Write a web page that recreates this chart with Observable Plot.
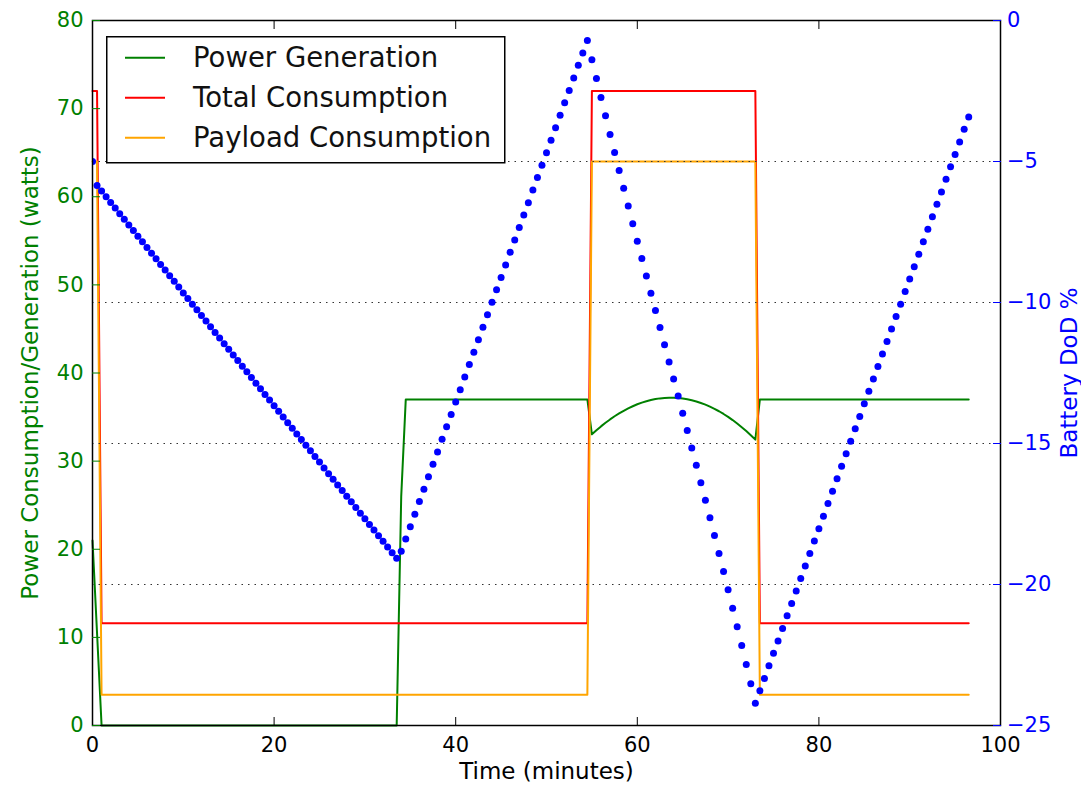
<!DOCTYPE html>
<html><head><meta charset="utf-8">
<script src="https://cdn.jsdelivr.net/npm/d3@7"></script>
<script src="https://cdn.jsdelivr.net/npm/@observablehq/plot@0.6"></script>
<style>
body{margin:0;background:#fff;}
#wrap{position:relative;width:1081px;height:792px;font-family:"DejaVu Sans";}
#legend{position:absolute;left:106px;top:36px;}
</style></head><body><div id="wrap"></div>
<script>
// ---------- data ----------
const seriesNames = ["Power Generation", "Total Consumption", "Payload Consumption"];

const genTime = [0, 1.0, 33.5, 34.0, 34.5, 54.5,
  55.0, 55.5, 56.0, 56.5, 57.0, 57.5, 58.0, 58.5, 59.0, 59.5,
  60.0, 60.5, 61.0, 61.5, 62.0, 62.5, 63.0, 63.5, 64.0, 64.5,
  65.0, 65.5, 66.0, 66.5, 67.0, 67.5, 68.0, 68.5, 69.0, 69.5,
  70.0, 70.5, 71.0, 71.5, 72.0, 72.5, 73.0, 73.5, 96.5];
const genWatts = [21, 0, 0, 26, 37, 37,
  33.04, 33.50, 33.94, 34.35, 34.73, 35.09, 35.41, 35.71, 35.99, 36.23,
  36.45, 36.64, 36.80, 36.93, 37.04, 37.12, 37.17, 37.20, 37.20, 37.16,
  37.11, 37.02, 36.91, 36.77, 36.60, 36.41, 36.18, 35.93, 35.66, 35.35,
  35.02, 34.66, 34.27, 33.85, 33.41, 32.94, 32.44, 37, 37];

const consTime = [0, 0.5, 1.0, 54.5, 55.0, 73.0, 73.5, 96.5];
const totalWatts = [72, 72, 11.6, 11.6, 72, 72, 11.6, 11.6];
const payloadWatts = [64, 64, 3.5, 3.5, 64, 64, 3.5, 3.5];

const batteryTime = [
  0, 0.5, 1, 1.5, 2, 2.5, 3, 3.5, 4, 4.5, 5, 5.5, 6, 6.5, 7, 7.5, 8, 8.5, 9, 9.5,
  10, 10.5, 11, 11.5, 12, 12.5, 13, 13.5, 14, 14.5, 15, 15.5, 16, 16.5, 17, 17.5, 18, 18.5, 19, 19.5,
  20, 20.5, 21, 21.5, 22, 22.5, 23, 23.5, 24, 24.5, 25, 25.5, 26, 26.5, 27, 27.5, 28, 28.5, 29, 29.5,
  30, 30.5, 31, 31.5, 32, 32.5, 33, 33.5, 34, 34.5, 35, 35.5, 36, 36.5, 37, 37.5, 38, 38.5, 39, 39.5,
  40, 40.5, 41, 41.5, 42, 42.5, 43, 43.5, 44, 44.5, 45, 45.5, 46, 46.5, 47, 47.5, 48, 48.5, 49, 49.5,
  50, 50.5, 51, 51.5, 52, 52.5, 53, 53.5, 54, 54.5, 55, 55.5, 56, 56.5, 57, 57.5, 58, 58.5, 59, 59.5,
  60, 60.5, 61, 61.5, 62, 62.5, 63, 63.5, 64, 64.5, 65, 65.5, 66, 66.5, 67, 67.5, 68, 68.5, 69, 69.5,
  70, 70.5, 71, 71.5, 72, 72.5, 73, 73.5, 74, 74.5, 75, 75.5, 76, 76.5, 77, 77.5, 78, 78.5, 79, 79.5,
  80, 80.5, 81, 81.5, 82, 82.5, 83, 83.5, 84, 84.5, 85, 85.5, 86, 86.5, 87, 87.5, 88, 88.5, 89, 89.5,
  90, 90.5, 91, 91.5, 92, 92.5, 93, 93.5, 94, 94.5, 95, 95.5, 96, 96.5];
const batteryDoD = [
  -5.00,
  -5.85, -6.05, -6.25, -6.45, -6.65, -6.85, -7.05, -7.25, -7.45, -7.65,
  -7.85, -8.05, -8.25, -8.45, -8.65, -8.85, -9.05, -9.25, -9.45, -9.66,
  -9.86, -10.06, -10.26, -10.46, -10.66, -10.86, -11.06, -11.26, -11.46, -11.66,
  -11.86, -12.06, -12.26, -12.46, -12.66, -12.86, -13.06, -13.26, -13.46, -13.66,
  -13.86, -14.06, -14.26, -14.46, -14.66, -14.86, -15.06, -15.26, -15.46, -15.66,
  -15.87, -16.07, -16.27, -16.47, -16.67, -16.87, -17.07, -17.27, -17.47, -17.67,
  -17.87, -18.07, -18.27, -18.47, -18.67, -18.87, -19.07,
  -18.82,
  -18.39, -17.95, -17.51, -17.06, -16.62, -16.18, -15.74, -15.30, -14.85, -14.41,
  -13.97, -13.53, -13.09, -12.64, -12.20, -11.76, -11.32, -10.88, -10.43, -9.99,
  -9.55, -9.11, -8.67, -8.22, -7.78, -7.34, -6.90, -6.46, -6.01, -5.57,
  -5.13, -4.69, -4.25, -3.80, -3.36, -2.92, -2.48, -2.04, -1.59, -1.15,
  -0.71,
  -1.39, -2.06, -2.73, -3.38, -4.04, -4.68, -5.32, -5.95, -6.58, -7.21,
  -7.83, -8.44, -9.06, -9.67, -10.28, -10.89, -11.50, -12.11, -12.71, -13.32,
  -13.93, -14.54, -15.16, -15.77, -16.39, -17.01, -17.63, -18.26, -18.90, -19.54,
  -20.19, -20.84, -21.50, -22.16, -22.84, -23.52, -24.21,
  -23.77, -23.33, -22.88, -22.44, -22.00, -21.56, -21.11, -20.67, -20.23, -19.79,
  -19.34, -18.90, -18.46, -18.02, -17.58, -17.13, -16.69, -16.25, -15.81, -15.36,
  -14.92, -14.48, -14.04, -13.59, -13.15, -12.71, -12.27, -11.83, -11.38, -10.94,
  -10.50, -10.06, -9.61, -9.17, -8.73, -8.29, -7.85, -7.40, -6.96, -6.52,
  -6.08, -5.63, -5.19, -4.75, -4.31, -3.86, -3.42];

const xTicks = [0, 20, 40, 60, 80, 100];
const wattTicks = [0, 10, 20, 30, 40, 50, 60, 70, 80];
const dodTicks = [-25, -20, -15, -10, -5, 0];
const dodGrid = [-20, -15, -10, -5];

// ---------- styles ----------
const colors = {gen: "#008000", total: "#ff0000", payload: "#ffa500", battery: "#0000ff"};
const seriesColors = [colors.gen, colors.total, colors.payload];

// map DoD (right axis, -25..0) onto the watts scale (0..80)
const dodMin = -25, dodMax = 0, wMin = 0, wMax = 80;
const toW = d => (d - dodMin) / (dodMax - dodMin) * (wMax - wMin) + wMin;
const fromW = w => (w - wMin) / (wMax - wMin) * (dodMax - dodMin) + dodMin;
const fmtDoD = w => { const v = Math.round(fromW(w)); return v < 0 ? "\u2212" + Math.abs(v) : String(v); };

const gen = genTime.map((t, i) => ({t, w: genWatts[i]}));
const total = consTime.map((t, i) => ({t, w: totalWatts[i]}));
const payload = consTime.map((t, i) => ({t, w: payloadWatts[i]}));
const battery = batteryTime.map((t, i) => ({t, d: batteryDoD[i]}));

const chart = Plot.plot({
  width: 1081, height: 792,
  marginLeft: 92, marginRight: 81, marginTop: 20, marginBottom: 67,
  x: {domain: [0, 100]},
  y: {domain: [wMin, wMax]},
  style: {fontFamily: "DejaVu Sans", fontSize: "21px", background: "white", color: "black"},
  marks: [
    Plot.line(gen, {x: "t", y: "w", stroke: colors.gen, strokeWidth: 2}),
    Plot.line(total, {x: "t", y: "w", stroke: colors.total, strokeWidth: 2}),
    Plot.line(payload, {x: "t", y: "w", stroke: colors.payload, strokeWidth: 2}),
    Plot.ruleY(dodGrid.map(toW), {stroke: "#333", strokeWidth: 1, strokeDasharray: "1.5,5"}),
    Plot.dot(battery, {x: "t", y: d => toW(d.d), r: 3.5, fill: colors.battery, stroke: "none", clip: true}),
    Plot.frame({stroke: "black", strokeWidth: 1.5}),
    Plot.axisX({ticks: xTicks, tickSize: -8, tickPadding: 20, label: null, tickFormat: d => String(d)}),
    Plot.axisX({anchor: "top", ticks: xTicks, tickSize: -8, label: null, tickFormat: () => ""}),
    Plot.axisY({ticks: wattTicks, tickSize: -8, tickPadding: 17, color: colors.gen, label: null, tickFormat: d => String(d)}),
    Plot.axisY({anchor: "right", ticks: dodTicks.map(toW), tickSize: -8, tickPadding: 14.5, color: colors.battery, label: null, tickFormat: fmtDoD}),
    Plot.text(["Time (minutes)"], {text: d => d, frameAnchor: "bottom", dy: 53, fontSize: 23, fill: "black", textAnchor: "middle"}),
    Plot.text(["Power Consumption/Generation (watts)"], {text: d => d, frameAnchor: "left", dx: -62, rotate: -90, fontSize: 23, fill: colors.gen, textAnchor: "middle"}),
    Plot.text(["Battery DoD %"], {text: d => d, frameAnchor: "right", dx: 69, rotate: -90, fontSize: 23, fill: colors.battery, textAnchor: "middle"})
  ]
});
const wrap = document.getElementById("wrap");
wrap.appendChild(chart);

// ---------- legend ----------
const lg = d3.select(wrap).append("svg").attr("id", "legend")
  .attr("width", 401).attr("height", 129);
lg.append("rect").attr("x", 0.75).attr("y", 0.75).attr("width", 398).attr("height", 126)
  .attr("fill", "white").attr("stroke", "black").attr("stroke-width", 1.5);
seriesNames.forEach((name, i) => {
  const cy = 21.7 + i * 40;
  lg.append("line").attr("x1", 19).attr("x2", 59).attr("y1", cy).attr("y2", cy)
    .attr("stroke", seriesColors[i]).attr("stroke-width", 2);
  lg.append("text").attr("x", 87).attr("y", cy + 9.5).text(name)
    .attr("font-family", "DejaVu Sans").attr("font-size", 27.5).attr("fill", "#111");
});
</script></body></html>
